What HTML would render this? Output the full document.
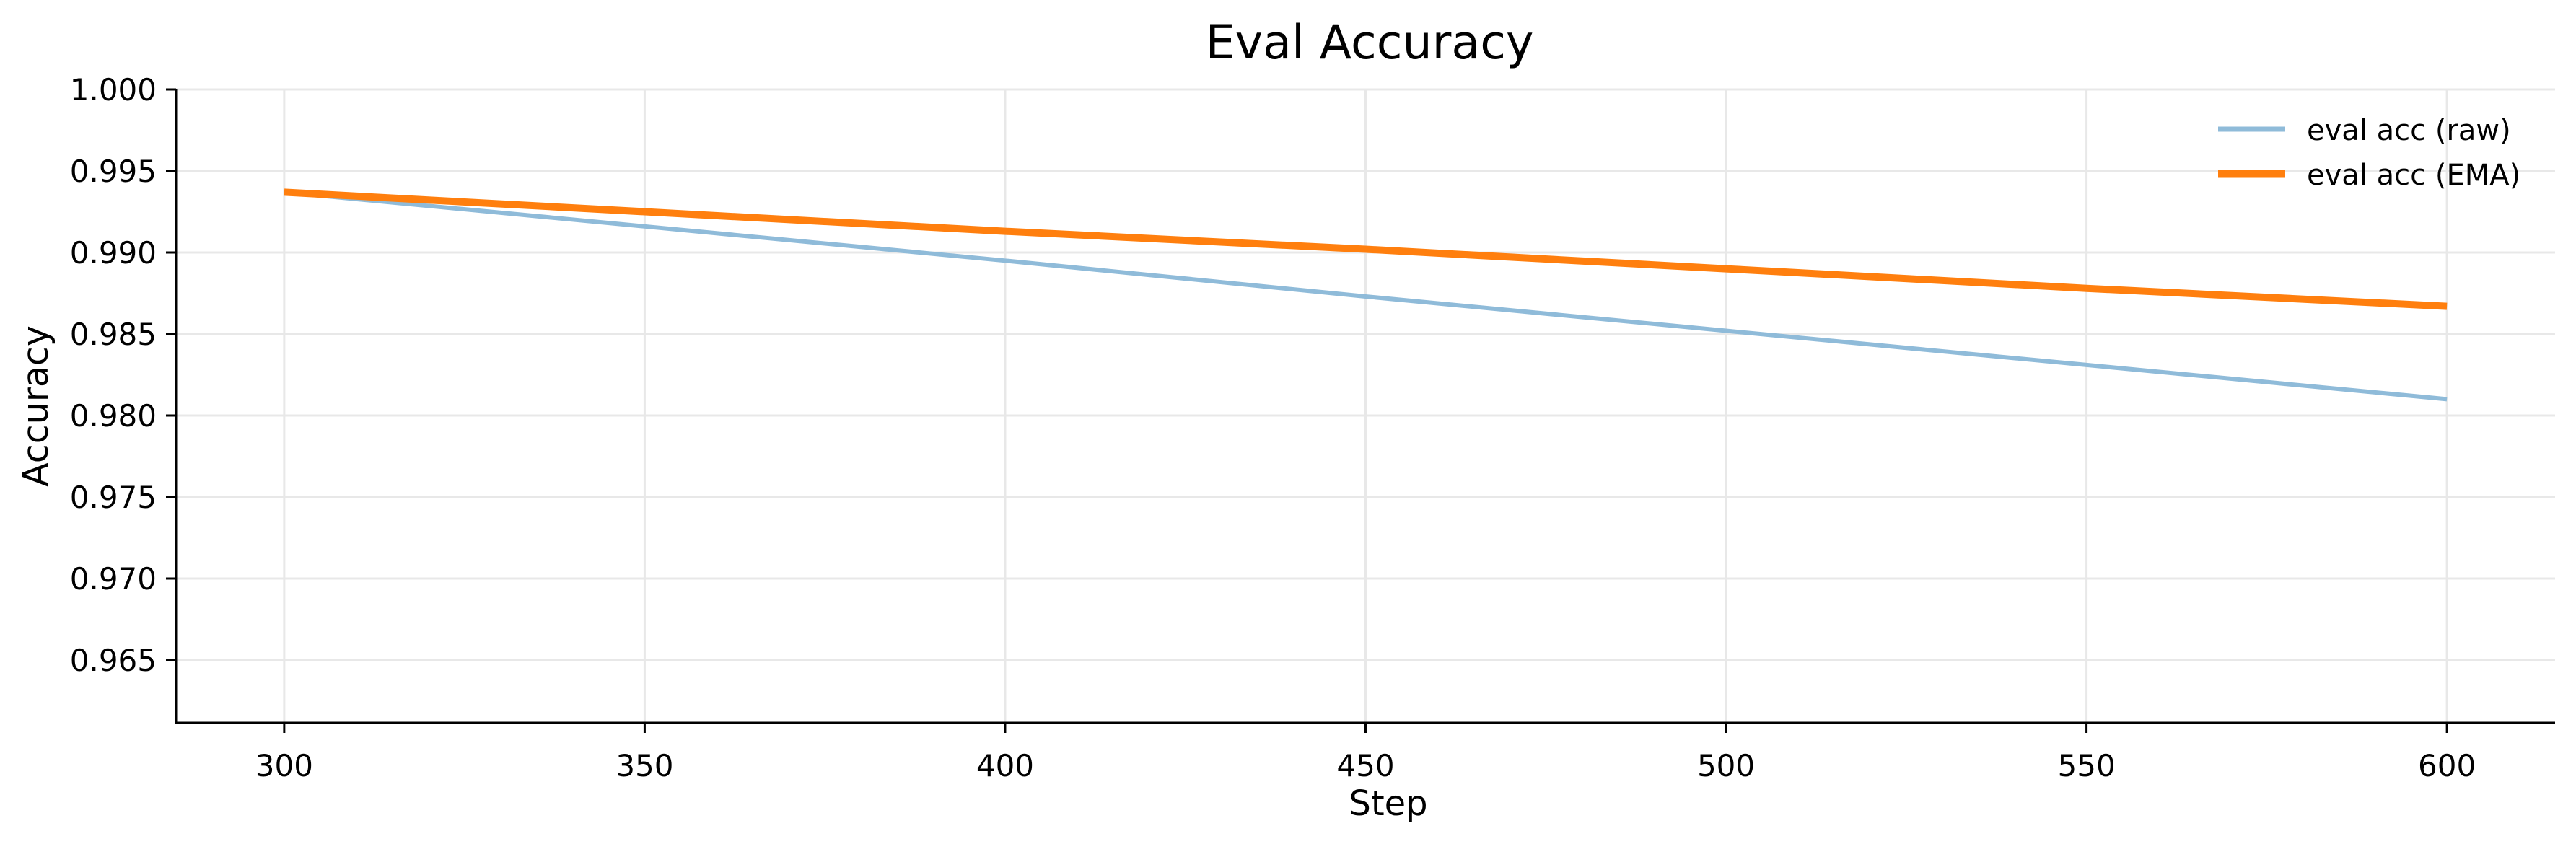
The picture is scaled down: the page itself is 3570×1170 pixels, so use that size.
<!DOCTYPE html>
<html><head><meta charset="utf-8"><style>
html,body{margin:0;padding:0;background:#fff}
svg{display:block;font-family:"DejaVu Sans","Liberation Sans",sans-serif}
</style></head><body>
<svg id="chart" width="3570" height="1170" viewBox="0 0 3570 1170" xmlns="http://www.w3.org/2000/svg">
<rect width="3570" height="1170" fill="#fff"/>
<g id="grid"></g>
<g id="series"></g>
<g id="axes"></g>
<text x="1898" y="81" font-size="65" text-anchor="middle">Eval Accuracy</text>
<text x="1924" y="1130" font-size="48" text-anchor="middle">Step</text>
<text transform="translate(66,563) rotate(-90)" font-size="49" text-anchor="middle">Accuracy</text>
<g>
<line x1="3074" y1="179" x2="3167" y2="179" stroke="#8fbbd9" stroke-width="7"/>
<text x="3197" y="194" font-size="40">eval acc (raw)</text>
<line x1="3074" y1="241" x2="3167" y2="241" stroke="#ff7f0e" stroke-width="11"/>
<text x="3197" y="256" font-size="40">eval acc (EMA)</text>
</g>
</svg>
<script>
const steps = [300, 350, 400, 450, 500, 550, 600];
const rawAcc = [0.9937, 0.9916, 0.9895, 0.9873, 0.9852, 0.9831, 0.9810];
const emaAcc = [0.9937, 0.9925, 0.9913, 0.9902, 0.9890, 0.9878, 0.9867];
const xTicks = [300, 350, 400, 450, 500, 550, 600];
const yTicks = [0.965, 0.970, 0.975, 0.980, 0.985, 0.990, 0.995, 1.000];

const NS = "http://www.w3.org/2000/svg";
const L = 244, R = 3541, T = 124, B = 1002;
const xMin = 285, xMax = 615, yMin = 0.96115, yMax = 1.0;
function sx(v){ return L + (v - xMin) / (xMax - xMin) * (R - L); }
function sy(v){ return B - (v - yMin) / (yMax - yMin) * (B - T); }
function mk(tag, attrs, parent){
  const e = document.createElementNS(NS, tag);
  for (const k in attrs) e.setAttribute(k, attrs[k]);
  parent.appendChild(e);
  return e;
}
const grid = document.getElementById('grid');
const axes = document.getElementById('axes');
const series = document.getElementById('series');

xTicks.forEach(t => {
  const x = sx(t);
  const g = mk('line', {x1:x, x2:x, y1:T, y2:B, stroke:'#e8e8e8', 'stroke-width':3}, grid);
  
  
  const tk = mk('line', {x1:x, x2:x, y1:B, y2:B+14, stroke:'#000', 'stroke-width':3}, axes);
  
  
  const lb = mk('text', {x:x, y:B+74, 'font-size':42, 'text-anchor':'middle'}, axes);
  lb.textContent = String(t);
  
  
});
yTicks.forEach(t => {
  const y = sy(t);
  const g = mk('line', {x1:L, x2:R, y1:y, y2:y, stroke:'#e8e8e8', 'stroke-width':3}, grid);
  
  
  const tk = mk('line', {x1:L-14, x2:L, y1:y, y2:y, stroke:'#000', 'stroke-width':3}, axes);
  
  
  const lb = mk('text', {x:L-27, y:y+15, 'font-size':42, 'text-anchor':'end'}, axes);
  lb.textContent = t.toFixed(3);
  
  
});
const sl = mk('line', {x1:L, x2:L, y1:T, y2:B+1.5, stroke:'#000', 'stroke-width':3}, axes);


const sb = mk('line', {x1:L-1.5, x2:R, y1:B, y2:B, stroke:'#000', 'stroke-width':3}, axes);



function pts(vals){ return steps.map((s,i) => sx(s).toFixed(1) + ',' + sy(vals[i]).toFixed(1)).join(' '); }
const rawLine = mk('polyline', {points:pts(rawAcc), fill:'none', stroke:'#8fbbd9', 'stroke-width':6}, series);


const emaLine = mk('polyline', {points:pts(emaAcc), fill:'none', stroke:'#ff7f0e', 'stroke-width':10}, series);


</script>
</body></html>
